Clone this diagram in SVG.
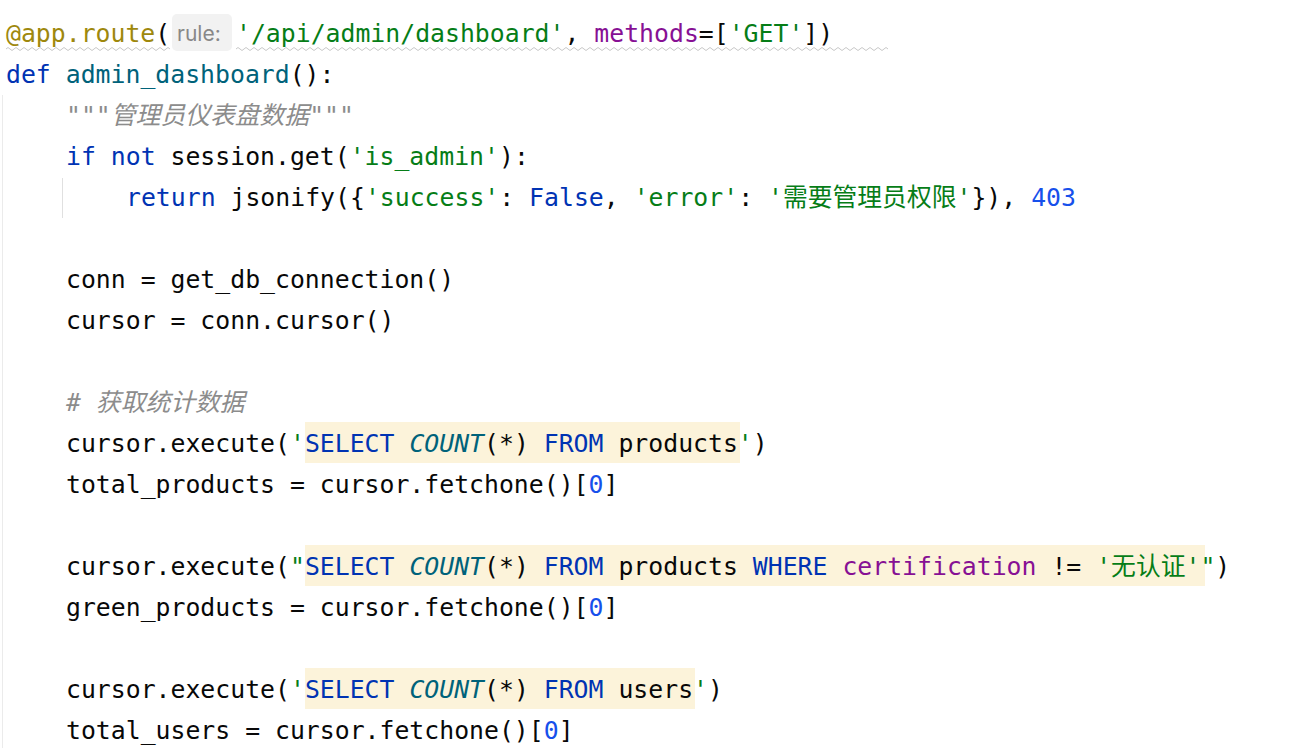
<svg xmlns="http://www.w3.org/2000/svg" width="1290" height="748" viewBox="0 0 1290 748">
<style>
text{font-family:"DejaVu Sans Mono","Noto Sans CJK SC",monospace;font-size:24.8px;fill:#080808;white-space:pre}
.kw{fill:#0033b3}.fn{fill:#00627a}.st{fill:#067d17}.pu{fill:#871094}.nu{fill:#1750eb}
.cm{fill:#8c8c8c;font-style:italic}.de{fill:#9e880d}.it{font-style:italic;fill:#00627a}
.hl{fill:#fcf3da}
</style>
<rect width="1290" height="748" fill="#ffffff"/>
<g id="decor">
<line x1="2.5" y1="95" x2="2.5" y2="748" stroke="#ebebeb"/>
<line x1="62.5" y1="178" x2="62.5" y2="218" stroke="#e0e0e0"/>
<rect x="172" y="14" width="60" height="37" rx="5" fill="#f2f2f2"/>
<path d="M6 49 q2 -3 4 0 t4 0 t4 0 t4 0 t4 0 t4 0 t4 0 t4 0 t4 0 t4 0 t4 0 t4 0 t4 0 t4 0 t4 0 t4 0 t4 0 t4 0 t4 0 t4 0 t4 0 t4 0 t4 0 t4 0 t4 0 t4 0 t4 0 t4 0 t4 0 t4 0 t4 0 t4 0 t4 0 t4 0 t4 0 t4 0 t4 0 t4 0 t4 0 t4 0 t4 0" fill="none" stroke="#c8c8c8" stroke-width="1"/>
<path d="M236 49 q2 -3 4 0 t4 0 t4 0 t4 0 t4 0 t4 0 t4 0 t4 0 t4 0 t4 0 t4 0 t4 0 t4 0 t4 0 t4 0 t4 0 t4 0 t4 0 t4 0 t4 0 t4 0 t4 0 t4 0 t4 0 t4 0 t4 0 t4 0 t4 0 t4 0 t4 0 t4 0 t4 0 t4 0 t4 0 t4 0 t4 0 t4 0 t4 0 t4 0 t4 0 t4 0 t4 0 t4 0 t4 0 t4 0 t4 0 t4 0 t4 0 t4 0 t4 0 t4 0 t4 0 t4 0 t4 0 t4 0 t4 0 t4 0 t4 0 t4 0 t4 0 t4 0 t4 0 t4 0 t4 0 t4 0 t4 0 t4 0 t4 0 t4 0 t4 0 t4 0 t4 0 t4 0 t4 0 t4 0 t4 0 t4 0 t4 0 t4 0 t4 0 t4 0 t4 0 t4 0 t4 0 t4 0 t4 0 t4 0 t4 0 t4 0 t4 0 t4 0 t4 0 t4 0 t4 0 t4 0 t4 0 t4 0 t4 0 t4 0 t4 0 t4 0 t4 0 t4 0 t4 0 t4 0 t4 0 t4 0 t4 0 t4 0 t4 0 t4 0 t4 0 t4 0 t4 0 t4 0 t4 0 t4 0 t4 0 t4 0 t4 0 t4 0 t4 0 t4 0 t4 0 t4 0 t4 0 t4 0 t4 0 t4 0 t4 0 t4 0 t4 0 t4 0 t4 0 t4 0 t4 0 t4 0 t4 0 t4 0 t4 0 t4 0 t4 0 t4 0 t4 0 t4 0 t4 0 t4 0 t4 0 t4 0 t4 0 t4 0 t4 0 t4 0 t4 0 t4 0 t4 0 t4 0 t4 0 t4 0 t4 0 t4 0 t4 0 t4 0" fill="none" stroke="#c8c8c8" stroke-width="1"/>
<rect class="hl" x="305" y="422" width="435" height="41"/>
<rect class="hl" x="305" y="545" width="900" height="41"/>
<rect class="hl" x="305" y="668" width="390" height="41"/>
</g>
<g id="code">
<text x="6" y="42"><tspan class="de">@app.route</tspan>(</text>
<text x="177" y="41" style="font-family:'Inter','Noto Sans',sans-serif;font-size:21px;fill:#888">rule:</text>
<text x="236" y="42"><tspan class="st">'/api/admin/dashboard'</tspan>, <tspan class="pu">methods</tspan>=[<tspan class="st">'GET'</tspan>])</text>
<text x="6" y="83"><tspan class="kw">def</tspan> <tspan class="fn">admin_dashboard</tspan>():</text>
<text x="66" y="124" class="cm">"""管理员仪表盘数据"""</text>
<text x="66" y="165"><tspan class="kw">if not</tspan> session.get(<tspan class="st">'is_admin'</tspan>):</text>
<text x="126" y="206"><tspan class="kw">return</tspan> jsonify({<tspan class="st">'success'</tspan>: <tspan class="kw">False</tspan>, <tspan class="st">'error'</tspan>: <tspan class="st">'需要管理员权限'</tspan>}), <tspan class="nu">403</tspan></text>
<text x="66" y="288">conn = get_db_connection()</text>
<text x="66" y="329">cursor = conn.cursor()</text>
<text x="66" y="411" class="cm"># 获取统计数据</text>
<text x="66" y="452">cursor.execute(<tspan class="st">'</tspan><tspan class="kw">SELECT </tspan><tspan class="it">COUNT</tspan>(*) <tspan class="kw">FROM</tspan> products<tspan class="st">'</tspan>)</text>
<text x="66" y="493">total_products = cursor.fetchone()[<tspan class="nu">0</tspan>]</text>
<text x="66" y="575">cursor.execute(<tspan class="st">"</tspan><tspan class="kw">SELECT </tspan><tspan class="it">COUNT</tspan>(*) <tspan class="kw">FROM</tspan> products <tspan class="kw">WHERE</tspan> <tspan class="pu">certification</tspan> != <tspan class="st">'无认证'"</tspan>)</text>
<text x="66" y="616">green_products = cursor.fetchone()[<tspan class="nu">0</tspan>]</text>
<text x="66" y="698">cursor.execute(<tspan class="st">'</tspan><tspan class="kw">SELECT </tspan><tspan class="it">COUNT</tspan>(*) <tspan class="kw">FROM</tspan> users<tspan class="st">'</tspan>)</text>
<text x="66" y="739">total_users = cursor.fetchone()[<tspan class="nu">0</tspan>]</text>
</g>
</svg>
